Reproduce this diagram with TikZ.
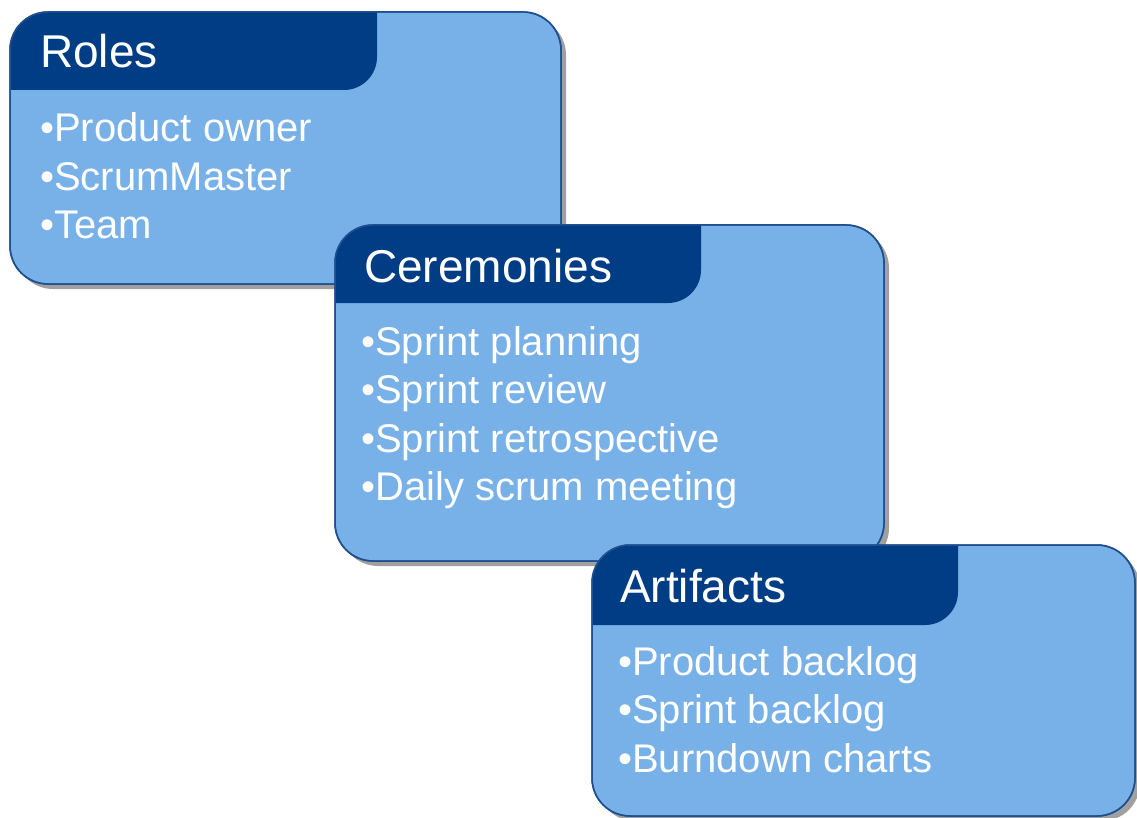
\documentclass[tikz,border=0pt]{standalone}
\usepackage{fontspec}
\setmainfont{Liberation Sans}
\usetikzlibrary{shadows}
\definecolor{lightblue}{HTML}{78B0E8}
\definecolor{navy}{HTML}{003D85}
\definecolor{bordblue}{HTML}{1F4F8F}
\definecolor{shadowgray}{HTML}{A0A0A0}
\tikzset{
  panel/.style={draw=bordblue, line width=1.5pt, fill=lightblue, rounded corners=38pt,
    inner sep=0pt, outer sep=0pt, anchor=north west,
    drop shadow={shadow xshift=5pt, shadow yshift=-5pt, opacity=1, fill=shadowgray}},
  hdr/.style={fill=navy, rounded corners=33pt},
  outline/.style={draw=bordblue, line width=1.5pt, rounded corners=38pt},
  title/.style={text=white, anchor=base west, inner sep=0pt, font=\fontsize{46}{46}\selectfont},
  item/.style={text=white, anchor=base west, inner sep=0pt, font=\fontsize{40}{40}\selectfont},
}
\newcommand{\panelbox}[7]{%
  % #1 name, #2 l, #3 t, #4 r, #5 b, #6 tab right, #7 header bottom
  \node[panel, minimum width={(#4-#2)*1pt}, minimum height={(#5-#3)*1pt}] (#1) at (#2,#3) {};
  \begin{scope}
    \clip[rounded corners=38pt] (#1.north west) rectangle (#1.south east);
    \fill[hdr] (#2-60,#7) -- (#6,#7) -- (#6,#3-60) -- (#2-60,#3-60) -- cycle;
  \end{scope}
  \draw[outline] (#1.north west) rectangle (#1.south east);
}
\begin{document}
\begin{tikzpicture}[x=1pt, y=-1pt]
\useasboundingbox (0,0) rectangle (1137,818);
\fill[white] (0,0) rectangle (1137,818);

\panelbox{roles}{10}{12}{561}{284}{377}{90}
\node[title] (rolest) at (40,68) {Roles};
\node[item] (roles1) at (40,142) {•Product owner};
\node[item] (roles2) at (40,190.5) {•ScrumMaster};
\node[item] (roles3) at (40,239) {•Team};

\panelbox{cer}{335}{225}{884}{561}{701}{303}
\node[title] (cert) at (364,282) {Ceremonies};
\node[item] (cer1) at (361,355) {•Sprint planning};
\node[item] (cer2) at (361,403.5) {•Sprint review};
\node[item] (cer3) at (361,452) {•Sprint retrospective};
\node[item] (cer4) at (361,500.5) {•Daily scrum meeting};

\panelbox{art}{592}{545}{1135}{816}{958}{625}
\node[title] (artt) at (620,602) {Artifacts};
\node[item] (art1) at (618,675) {•Product backlog};
\node[item] (art2) at (618,723.5) {•Sprint backlog};
\node[item] (art3) at (618,772) {•Burndown charts};
\end{tikzpicture}
\end{document}
